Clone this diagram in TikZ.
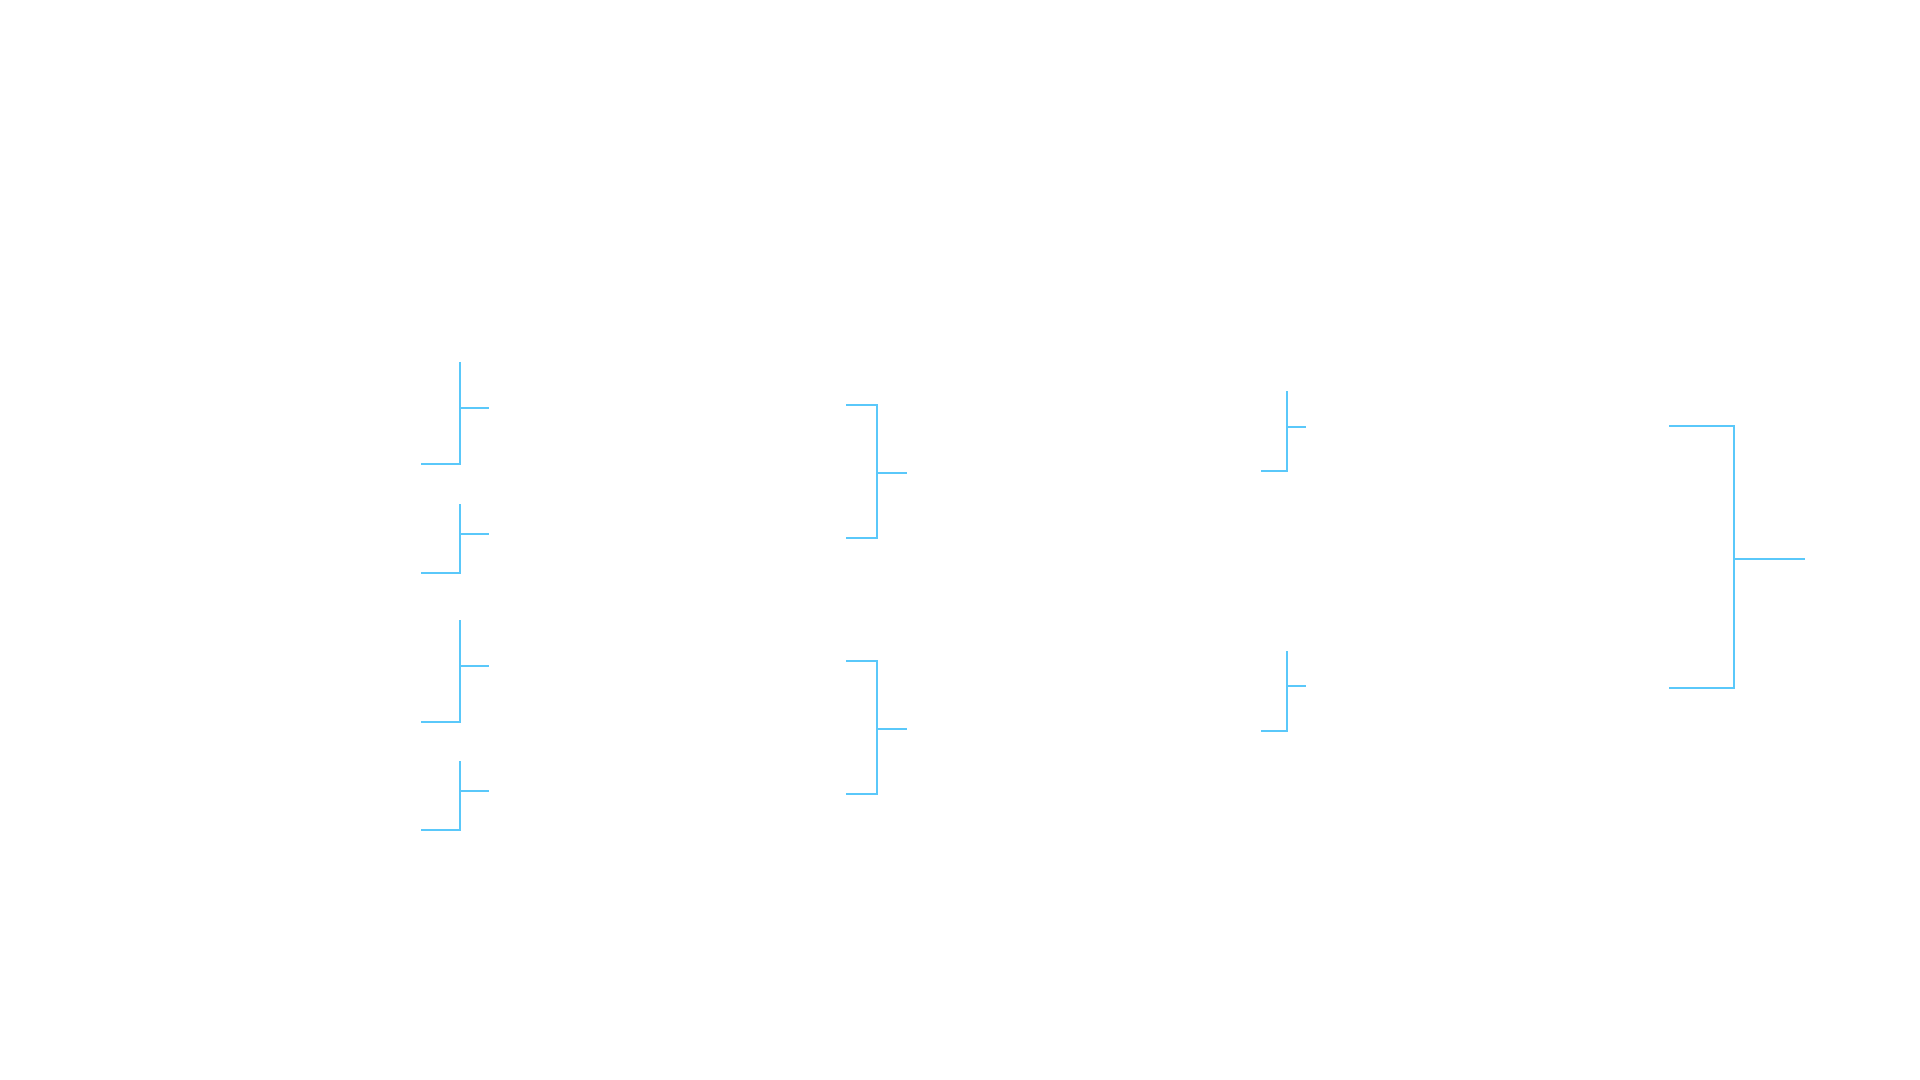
\documentclass[tikz,border=0pt]{standalone}
\definecolor{brk}{RGB}{90,200,250}
\begin{document}
\begin{tikzpicture}[x=0.5pt,y=-0.5pt,
  brline/.style={draw=brk,line width=1pt,line cap=butt,line join=miter}]
\useasboundingbox[fill=white] (0,0) rectangle (1920,1080);
% column 1: open-top brackets
\foreach \n/\t/\m/\b in {A/362/408/464, B/504/534/573, C/620/666/722, D/761/791/830}{
  \coordinate (\n top) at (460,\t);
  \coordinate (\n bot) at (460,\b);
  \coordinate (\n end) at (421,\b);
  \coordinate (\n mid) at (460,\m);
  \coordinate (\n tick) at (489,\m);
  \draw[brline] (\n top) -- (\n bot) -- (\n end);
  \draw[brline] (\n mid) -- (\n tick);
}
% column 2: closed brackets
\foreach \n/\t/\m/\b in {E/405/473/538, F/661/729/794}{
  \coordinate (\n topl) at (846,\t);
  \coordinate (\n topr) at (877,\t);
  \coordinate (\n botr) at (877,\b);
  \coordinate (\n botl) at (846,\b);
  \coordinate (\n mid) at (877,\m);
  \coordinate (\n tick) at (907,\m);
  \draw[brline] (\n topl) -- (\n topr) -- (\n botr) -- (\n botl);
  \draw[brline] (\n mid) -- (\n tick);
}
% column 3: open-top brackets
\foreach \n/\t/\m/\b in {G/391/427/471, H/651/686/731}{
  \coordinate (\n top) at (1287,\t);
  \coordinate (\n bot) at (1287,\b);
  \coordinate (\n end) at (1261,\b);
  \coordinate (\n mid) at (1287,\m);
  \coordinate (\n tick) at (1306,\m);
  \draw[brline] (\n top) -- (\n bot) -- (\n end);
  \draw[brline] (\n mid) -- (\n tick);
}
% column 4: final bracket
\coordinate (Ktopl) at (1669,426);
\coordinate (Ktopr) at (1734,426);
\coordinate (Kbotr) at (1734,688);
\coordinate (Kbotl) at (1669,688);
\coordinate (Kmid) at (1734,559);
\coordinate (Ktick) at (1805,559);
\draw[brline] (Ktopl) -- (Ktopr) -- (Kbotr) -- (Kbotl);
\draw[brline] (Kmid) -- (Ktick);
\end{tikzpicture}
\end{document}
